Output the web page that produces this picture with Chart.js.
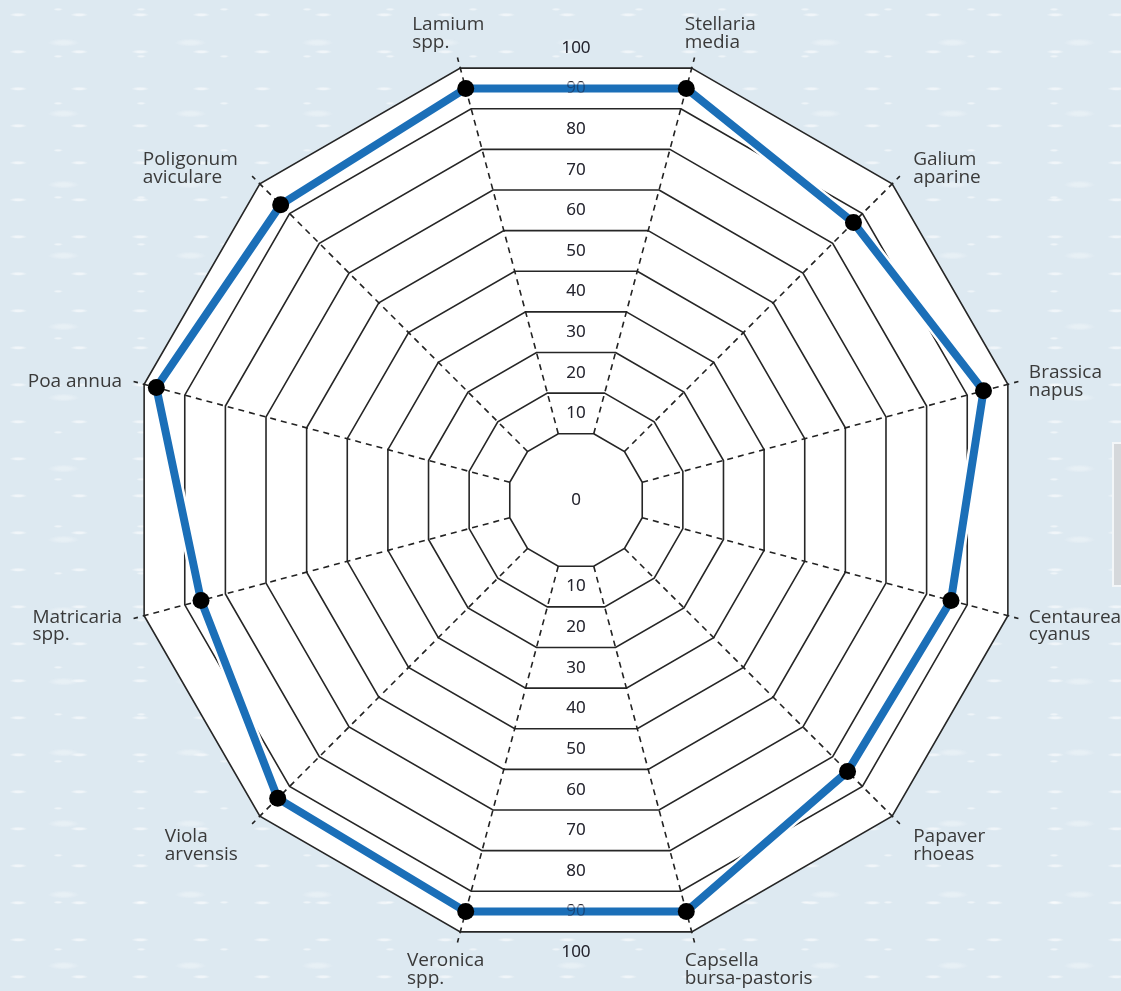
<!DOCTYPE html>
<html>
<head>
<meta charset="utf-8">
<script src="https://cdn.jsdelivr.net/npm/chart.js@4/dist/chart.umd.min.js"></script>
<style>
html,body{margin:0;padding:0;width:1121px;height:991px;overflow:hidden;}
body{
  background-color:#dde9f1;
  background-image:
    radial-gradient(ellipse 9px 2px at 30% 40%, rgba(255,255,255,.55) 40%, rgba(255,255,255,0) 100%),
    radial-gradient(ellipse 5px 1.5px at 70% 20%, rgba(255,255,255,.5) 40%, rgba(255,255,255,0) 100%),
    radial-gradient(ellipse 16px 4px at 50% 60%, rgba(255,255,255,.3) 40%, rgba(255,255,255,0) 100%);
  background-size: 61px 37px, 83px 47px, 127px 71px;
}
#wrap{position:absolute;left:0;top:0;width:1121px;height:991px;}
#tab{position:absolute;left:1112px;top:442px;width:9px;height:141px;background:#d5d8db;
  border-left:2px solid #f3f6f8;border-top:2px solid #f3f6f8;border-bottom:2px solid #f3f6f8;}
</style>
</head>
<body>
<div id="wrap"><canvas id="c" width="1121" height="991"></canvas></div>
<div id="tab"></div>
<script>
// ---- data ----
const categories = [
  ["Stellaria", "media"],
  ["Galium", "aparine"],
  ["Brassica", "napus"],
  ["Centaurea", "cyanus"],
  ["Papaver", "rhoeas"],
  ["Capsella", "bursa-pastoris"],
  ["Veronica", "spp."],
  ["Viola", "arvensis"],
  ["Matricaria", "spp."],
  ["Poa annua"],
  ["Poligonum", "aviculare"],
  ["Lamium", "spp."]
];
const values = [90, 82, 89, 81, 80, 90, 90, 89, 81, 92, 88, 90];
const tickLabels = [0, 10, 20, 30, 40, 50, 60, 70, 80, 90, 100];
const ringValues = [5, 15, 25, 35, 45, 55, 65, 75, 85, 95];

// ---- scale geometry / style config ----
const SCALE_MIN = -11.3;
const SCALE_MAX = 95;
const SPOKE_END = 97.6;
const CENTER_X = 576, CENTER_Y = 500, RADIUS = 447.1;
const LABEL_FONT = '19px "Open Sans", "Noto Sans", sans-serif';
const TICK_FONT = '17px "Open Sans", "Noto Sans", sans-serif';
const TEXT_COLOR = '#3a3a3a';
const LINE_H = 17.5;

function polyPoint(s, i, v) {
  return s.getPointPosition(i, s.getDistanceFromCenterForValue(v));
}

function drawTicks(chart, color) {
  const s = chart.scales.r, ctx = chart.ctx, n = categories.length;
  ctx.save();
  ctx.font = TICK_FONT;
  ctx.fillStyle = color;
  ctx.textAlign = 'center';
  ctx.textBaseline = 'middle';
  tickLabels.forEach(v => {
    if (v === 0) { ctx.fillText(String(v), s.xCenter, s.yCenter); return; }
    const a = polyPoint(s, n - 1, v), b = polyPoint(s, 0, v);
    ctx.fillText(String(v), (a.x + b.x) / 2, (a.y + b.y) / 2);
    const c = polyPoint(s, n / 2 - 1, v), d = polyPoint(s, n / 2, v);
    ctx.fillText(String(v), (c.x + d.x) / 2, (c.y + d.y) / 2);
  });
  ctx.restore();
}

const deco = {
  id: 'deco',
  beforeDraw(chart) {
    const s = chart.scales.r, ctx = chart.ctx;
    ctx.save();
    ctx.beginPath();
    categories.forEach((_, i) => {
      const p = polyPoint(s, i, ringValues[ringValues.length - 1]);
      if (i) ctx.lineTo(p.x, p.y); else ctx.moveTo(p.x, p.y);
    });
    ctx.closePath();
    ctx.fillStyle = '#ffffff';
    ctx.fill();
    ctx.restore();
  },
  beforeDatasetsDraw(chart) {
    const s = chart.scales.r, ctx = chart.ctx;
    ctx.save();
    ctx.setLineDash([6, 5]);
    ctx.lineWidth = 1.6;
    ctx.strokeStyle = '#222';
    categories.forEach((_, i) => {
      const p1 = polyPoint(s, i, ringValues[0]);
      const p2 = polyPoint(s, i, SPOKE_END);
      ctx.beginPath();
      ctx.moveTo(p1.x, p1.y);
      ctx.lineTo(p2.x, p2.y);
      ctx.stroke();
    });
    ctx.restore();
    drawTicks(chart, '#333');
  },
  afterDatasetsDraw(chart) {
    const s = chart.scales.r, ctx = chart.ctx;
    drawTicks(chart, 'rgba(20,20,45,0.45)');
    ctx.save();
    ctx.font = LABEL_FONT;
    ctx.fillStyle = TEXT_COLOR;
    ctx.textAlign = 'left';
    ctx.textBaseline = 'middle';
    categories.forEach((lines, i) => {
      const v = polyPoint(s, i, ringValues[ringValues.length - 1]);
      const ang = s.getIndexAngle(i);
      const sn = Math.sin(ang), cs = Math.cos(ang);
      const w = Math.max(...lines.map(l => ctx.measureText(l).width));
      const h = lines.length * LINE_H;
      let left, top;
      if (Math.abs(sn) >= 0.5) left = sn > 0 ? v.x + 21 : v.x - 22 - w;
      else left = sn > 0 ? v.x - 7 : v.x + 24 - w;
      if (Math.abs(cs) > 0.9) top = cs > 0 ? v.y - 17 - h : v.y + 20;
      else if (Math.abs(cs) > 0.5) top = cs > 0 ? v.y + 2 - h : v.y + 12;
      else top = v.y + 4 - cs * 25 - h / 2;
      lines.forEach((l, k) => ctx.fillText(l, left, top + k * LINE_H + LINE_H / 2));
    });
    ctx.restore();
  }
};

new Chart(document.getElementById('c'), {
  type: 'radar',
  data: {
    labels: categories,
    datasets: [
      {
        data: values,
        borderColor: '#1b6fb8',
        borderWidth: 8,
        pointRadius: 8.5,
        pointBackgroundColor: '#000000',
        pointBorderWidth: 0,
        fill: false,
        tension: 0,
        order: 1
      },
      {
        data: values,
        borderColor: '#ffffff',
        borderWidth: 13,
        pointRadius: 0,
        fill: false,
        tension: 0,
        order: 2
      }
    ]
  },
  options: {
    responsive: false,
    animation: false,
    events: [],
    layout: { padding: 0 },
    plugins: { legend: { display: false }, tooltip: { enabled: false }, title: { display: false } },
    scales: {
      r: {
        min: SCALE_MIN,
        max: SCALE_MAX,
        startAngle: 15,
        ticks: { display: false, stepSize: 10 },
        pointLabels: { display: false },
        angleLines: { display: false },
        grid: { color: '#262626', lineWidth: 1.6 },
        afterBuildTicks: sc => {
          sc.ticks = [{ value: SCALE_MIN }].concat(ringValues.map(v => ({ value: v })));
        },
        afterFit: sc => {
          sc.xCenter = CENTER_X;
          sc.yCenter = CENTER_Y;
          sc.drawingArea = RADIUS;
        }
      }
    }
  },
  plugins: [deco]
});
</script>
</body>
</html>
